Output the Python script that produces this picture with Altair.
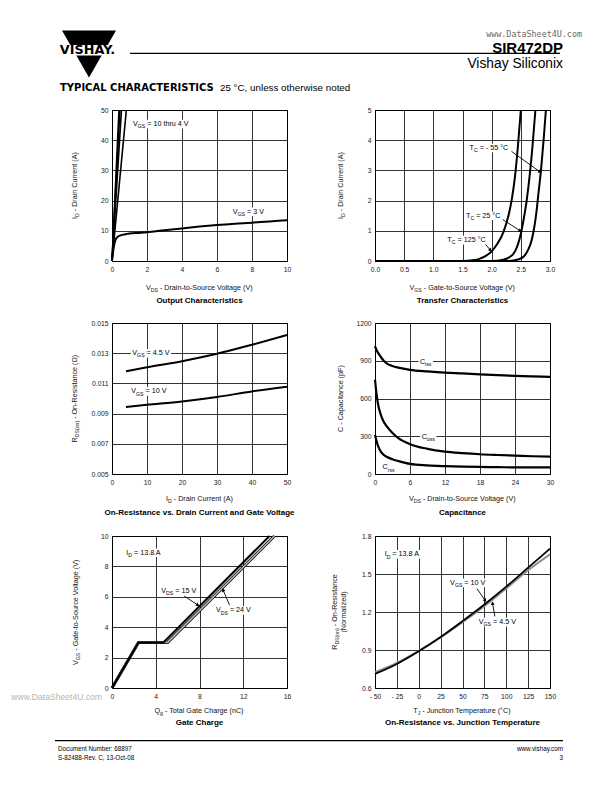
import math
import altair as alt
import pandas as pd

FONT = "Liberation Sans"

# ---------------- data ----------------
# Output characteristics
out_hi_vds = [[0.0, 0.40], [0.0, 0.45], [0.0, 0.54], [0.0, 0.82]]   # VGS = 10 thru 4 V
out_hi_id = [0.0, 50.0]
out_vgs3_vds = [0, 0.05, 0.1, 0.15, 0.2, 0.3, 0.45, 0.7, 1.0, 1.5, 2, 3, 4, 5, 6, 7, 8, 9, 10]
out_vgs3_id = [0, 2.5, 4.5, 6.0, 7.0, 7.9, 8.4, 8.8, 9.1, 9.3, 9.5, 10.2, 10.8, 11.4, 11.9, 12.3, 12.7, 13.1, 13.5]

# Transfer characteristics
tr_125_vgs = [0, 1.5, 1.7, 1.8, 1.9, 2.0, 2.1, 2.2, 2.3, 2.35, 2.4, 2.45, 2.5]
tr_125_id = [0, 0, 0.03, 0.08, 0.17, 0.32, 0.58, 0.95, 1.6, 2.1, 2.8, 3.8, 5.0]
tr_25_vgs = [0, 2.0, 2.2, 2.3, 2.4, 2.45, 2.5, 2.55, 2.6, 2.65, 2.7, 2.75]
tr_25_id = [0, 0, 0.04, 0.12, 0.32, 0.55, 0.9, 1.4, 2.0, 2.8, 3.8, 5.0]
tr_m55_vgs = [0, 2.3, 2.45, 2.55, 2.62, 2.68, 2.72, 2.76, 2.8, 2.85, 2.89, 2.93]
tr_m55_id = [0, 0, 0.05, 0.15, 0.35, 0.65, 1.0, 1.5, 2.2, 3.1, 4.0, 5.0]

# On-resistance vs drain current
ron_id = [4, 10, 20, 30, 40, 50]
ron_vgs45 = [0.0118, 0.01207, 0.01247, 0.01296, 0.01356, 0.0142]
ron_vgs10 = [0.00944, 0.00958, 0.0098, 0.0101, 0.01047, 0.01078]

# Capacitance
cap_vds = [0, 0.25, 0.5, 1, 1.5, 2, 3, 4, 6, 9, 12, 15, 18, 21, 24, 27, 30]
cap_ciss = [1016, 985, 965, 930, 900, 880, 858, 845, 828, 815, 805, 799, 792, 786, 780, 776, 772]
cap_coss = [750, 640, 560, 470, 415, 380, 325, 285, 237, 200, 178, 166, 157, 151, 146, 141, 138]
cap_crss = [310, 265, 225, 178, 152, 137, 117, 103, 80, 68, 62, 58, 56, 54, 53, 53, 53]

# Gate charge
gc_qg_15 = [0, 2.42, 4.70, 14.40]
gc_vgs_15 = [0, 3, 3, 10]
gc_qg_24 = [0, 2.42, 5.08, 14.85]
gc_vgs_24 = [0, 3, 3, 10]

# On-resistance vs junction temperature
tj = [-50, -25, 0, 25, 50, 75, 100, 125, 150]
rn_vgs10 = [0.711, 0.79, 0.89, 1.003, 1.128, 1.259, 1.40, 1.55, 1.70]
rn_vgs45 = [0.724, 0.798, 0.893, 1.0, 1.12, 1.246, 1.386, 1.53, 1.655]

# tick values
p1_xt, p1_yt = [0, 2, 4, 6, 8, 10], [0, 10, 20, 30, 40, 50]
p2_xt, p2_yt = [0, 0.5, 1.0, 1.5, 2.0, 2.5, 3.0], [0, 1, 2, 3, 4, 5]
p3_xt, p3_yt = [0, 10, 20, 30, 40, 50], [0.005, 0.007, 0.009, 0.011, 0.013, 0.015]
p4_xt, p4_yt = [0, 6, 12, 18, 24, 30], [0, 300, 600, 900, 1200]
p5_xt, p5_yt = [0, 4, 8, 12, 16], [0, 2, 4, 6, 8, 10]
p6_xt, p6_yt = [-50, -25, 0, 25, 50, 75, 100, 125, 150], [0.6, 0.9, 1.2, 1.5, 1.8]

panel_titles = ["Output Characteristics", "Transfer Characteristics",
                "On-Resistance vs. Drain Current and Gate Voltage", "Capacitance",
                "Gate Charge", "On-Resistance vs. Junction Temperature"]

# ---------------- helpers ----------------
AW = {' ': 278, '!': 278, '(': 333, ')': 333, ',': 278, '-': 333, '.': 278, '/': 278, ':': 278,
      '=': 584, '°': 400, 'Ω': 768}
for c in "0123456789":
    AW[c] = 556
for c, w in zip("ABCDEFGHIJKLMNOPQRSTUVWXYZ",
                [667, 667, 722, 722, 667, 611, 778, 722, 278, 500, 667, 556, 833, 722, 778, 667, 778,
                 722, 667, 611, 722, 667, 944, 667, 667, 611]):
    AW[c] = w
for c, w in zip("abcdefghijklmnopqrstuvwxyz",
                [556, 556, 500, 556, 556, 278, 556, 556, 222, 222, 500, 222, 833, 556, 556, 556, 556,
                 333, 500, 278, 556, 500, 722, 500, 500, 500]):
    AW[c] = w


def tw(s, fs):
    return sum(AW.get(c, 556) for c in s) * fs / 1000.0


ONE = pd.DataFrame({"a": [0]})


def seg_list(segs, size):
    out, off = [], 0.0
    for t, sub in segs:
        fs = size * 0.72 if sub else size
        core = t.strip(" ")
        lead = len(t) - len(t.lstrip(" "))
        trail = len(t) - len(t.rstrip(" "))
        off += tw(" " * lead, fs)
        if core:
            out.append((core, fs, off, sub))
            off += tw(core, fs)
        off += tw(" " * trail, fs)
    return out, off


def ptext(segs, px, py, size, align="center", angle=0, color="#111"):
    items, total = seg_list(segs, size)
    start = {"left": 0.0, "center": -total / 2.0, "right": -total}[align]
    layers = []
    for t, fs, off, sub in items:
        sh = size * 0.3 if sub else 0.0
        if angle == 0:
            x, y = px + start + off, py + sh
        else:
            x, y = px + sh, py - (start + off)
        layers.append(alt.Chart(ONE).mark_text(
            text=t, font=FONT, fontSize=fs, color=color, align="left", baseline="middle", angle=angle
        ).encode(x=alt.value(x), y=alt.value(y)))
    return layers


def ptext1(t, px, py, size, align="left", weight="normal", font=FONT, color="black"):
    return alt.Chart(ONE).mark_text(
        text=t, font=font, fontSize=size, fontWeight=weight, color=color, align=align, baseline="middle"
    ).encode(x=alt.value(px), y=alt.value(py))


class Panel:
    def __init__(self, W, H, xdom, ydom, xvals, yvals, xfmt=None, yfmt=None, xexpr=None):
        self.W, self.H, self.xdom, self.ydom = W, H, xdom, ydom
        self.sx = alt.Scale(domain=xdom, nice=False, zero=False)
        self.sy = alt.Scale(domain=ydom, nice=False, zero=False)
        self.kx = W / (xdom[1] - xdom[0])
        self.ky = H / (ydom[1] - ydom[0])
        xk = dict(values=xvals, title=None, grid=True, ticks=False, domain=False, labelPadding=5.5,
                  labelFlush=False, labelOverlap=False)
        yk = dict(values=yvals, title=None, grid=True, ticks=False, domain=False, labelPadding=4,
                  labelFlush=False, labelOverlap=False)
        if xfmt:
            xk["format"] = xfmt
        if yfmt:
            yk["format"] = yfmt
        if xexpr:
            xk["labelExpr"] = xexpr
        self.xa = alt.Axis(**xk)
        self.ya = alt.Axis(**yk)

    def X(self, f="x"):
        return alt.X(f, type="quantitative", scale=self.sx, axis=self.xa)

    def Y(self, f="y"):
        return alt.Y(f, type="quantitative", scale=self.sy, axis=self.ya)


def axes(P):
    df = pd.DataFrame({"x": [P.xdom[0]], "y": [P.ydom[0]]})
    return alt.Chart(df).mark_point(opacity=0).encode(x=P.X(), y=P.Y())


def line(P, xs, ys, color="black", width=2.0, interp="monotone"):
    df = pd.DataFrame({"x": xs, "y": ys})
    return alt.Chart(df).mark_line(color=color, strokeWidth=width, interpolate=interp).encode(x=P.X(), y=P.Y())


def dlabel(P, segs, x, y, size=7.2, bg=True):
    items, total = seg_list(segs, size)
    df = pd.DataFrame({"x": [x], "y": [y]})
    layers = []
    if bg:
        layers.append(alt.Chart(df).mark_rect(
            color="white", xOffset=-1.5, x2Offset=total + 1.5, yOffset=-size * 0.6, y2Offset=size * 0.6
        ).encode(x=P.X(), x2=alt.X2("x"), y=P.Y(), y2=alt.Y2("y")))
    for t, fs, off, sub in items:
        layers.append(alt.Chart(df).mark_text(
            text=t, font=FONT, fontSize=fs, align="left", baseline="middle", dx=off,
            dy=(size * 0.3 if sub else 0), color="black"
        ).encode(x=P.X(), y=P.Y()))
    return layers


def arrow(P, x1, y1, x2, y2):
    df = pd.DataFrame({"x": [x1], "y": [y1], "x2": [x2], "y2": [y2]})
    rule = alt.Chart(df).mark_rule(color="black", strokeWidth=0.9).encode(
        x=P.X(), y=P.Y(), x2=alt.X2("x2"), y2=alt.Y2("y2"))
    dxp = (x2 - x1) * P.kx
    dyp = -(y2 - y1) * P.ky
    ang = math.degrees(math.atan2(dxp, -dyp)) % 360
    hd = pd.DataFrame({"x": [x2], "y": [y2]})
    head = alt.Chart(hd).mark_point(shape="triangle-up", filled=True, size=16, angle=ang, color="black",
                                    opacity=1, strokeWidth=0).encode(x=P.X(), y=P.Y())
    return [rule, head]


def titles(P, xsegs, ysegs_list, xoff, toff, yxs, title):
    L = ptext(xsegs, P.W / 2, P.H + xoff, 7.2)
    for ysegs, yx in zip(ysegs_list, yxs):
        L += ptext(ysegs, yx, P.H / 2, 7.2, angle=270)
    L.append(ptext1(title, P.W / 2, P.H + toff, 8, align="center", weight="bold"))
    return L


W = 175
VDS = [("V", 0), ("DS", 1), (" - Drain-to-Source Voltage (V)", 0)]
VGS = [("V", 0), ("GS", 1), (" - Gate-to-Source Voltage (V)", 0)]
ID = [("I", 0), ("D", 1), (" - Drain Current (A)", 0)]

# ---------------- panel 1 ----------------
P1 = Panel(W, 151, [0, 10], [0, 50], p1_xt, p1_yt)
l1 = [axes(P1)]
for xs in out_hi_vds:
    l1.append(line(P1, xs, out_hi_id, width=1.6, interp="linear"))
l1.append(line(P1, out_vgs3_vds, out_vgs3_id, width=2.0))
l1 += dlabel(P1, [("V", 0), ("GS", 1), (" = 10 thru 4 V", 0)], 1.2, 45.3)
l1 += dlabel(P1, [("V", 0), ("GS", 1), (" = 3 V", 0)], 6.9, 16.3)
l1 += titles(P1, VDS, [ID], 27, 40, [-37], panel_titles[0])
# page header (positioned relative to this panel)
l1.append(alt.Chart(ONE).mark_point(shape="triangle-down", size=2916, filled=True, color="black",
                                    opacity=1, strokeWidth=0).encode(x=alt.value(-23), y=alt.value(-56)))
l1.append(alt.Chart(ONE).mark_rect(color="white").encode(
    x=alt.value(-57), x2=alt.value(10), y=alt.value(-65), y2=alt.value(-54.5)))
l1.append(ptext1("VISHAY.", -24.5, -59.8, 12.8, align="center", weight="bold", font="DejaVu Sans"))
l1.append(alt.Chart(ONE).mark_rule(color="black", strokeWidth=1.3).encode(
    x=alt.value(18), x2=alt.value(448), y=alt.value(-56.7)))
l1.append(ptext1("SIR472DP", 451, -62.5, 15, align="right", weight="bold"))
l1.append(ptext1("www.DataSheet4U.com", 470, -76, 8.4, align="right", font="DejaVu Sans Mono",
                 color="#6a6a6a"))
l1.append(ptext1("Vishay Siliconix", 451, -46.2, 13.8, align="right"))
l1.append(ptext1("TYPICAL CHARACTERISTICS", -52, -22.3, 10, weight="bold", font="DejaVu Sans"))
l1.append(ptext1("25 °C, unless otherwise noted", 108, -22, 9.8))
c1 = alt.layer(*l1).properties(width=P1.W, height=P1.H)

# ---------------- panel 2 ----------------
P2 = Panel(W, 151, [0, 3], [0, 5], p2_xt, p2_yt, xfmt=".1f")
l2 = [axes(P2)]
l2.append(line(P2, tr_125_vgs, tr_125_id))
l2.append(line(P2, tr_25_vgs, tr_25_id))
l2.append(line(P2, tr_m55_vgs, tr_m55_id))
l2 += arrow(P2, 2.34, 3.63, 2.83, 2.95)
l2 += arrow(P2, 2.19, 1.37, 2.49, 1.0)
l2 += arrow(P2, 1.88, 0.58, 1.98, 0.36)
l2 += dlabel(P2, [("T", 0), ("C", 1), (" = - 55 °C", 0)], 1.62, 3.74)
l2 += dlabel(P2, [("T", 0), ("C", 1), (" = 25 °C", 0)], 1.56, 1.5)
l2 += dlabel(P2, [("T", 0), ("C", 1), (" = 125 °C", 0)], 1.24, 0.69)
l2 += titles(P2, VGS, [ID], 27, 40, [-34], panel_titles[1])
c2 = alt.layer(*l2).properties(width=P2.W, height=P2.H)

# ---------------- panel 3 ----------------
P3 = Panel(W, 151, [0, 50], [0.005, 0.015], p3_xt, p3_yt, yfmt=".3f")
l3 = [axes(P3)]
l3.append(line(P3, ron_id, ron_vgs45))
l3.append(line(P3, ron_id, ron_vgs10))
l3 += dlabel(P3, [("V", 0), ("GS", 1), (" = 4.5 V", 0)], 5.8, 0.0130)
l3 += dlabel(P3, [("V", 0), ("GS", 1), (" = 10 V", 0)], 5.5, 0.01047)
l3 += titles(P3, ID, [[("R", 0), ("DS(on)", 1), (" - On-Resistance (Ω)", 0)]], 25, 39, [-37],
             panel_titles[2])
c3 = alt.layer(*l3).properties(width=P3.W, height=P3.H)

# ---------------- panel 4 ----------------
P4 = Panel(W, 151, [0, 30], [0, 1200], p4_xt, p4_yt, yfmt="d")
l4 = [axes(P4)]
l4.append(line(P4, cap_vds, cap_ciss, width=2.2))
l4.append(line(P4, cap_vds, cap_coss, width=2.2))
l4.append(line(P4, cap_vds, cap_crss, width=2.2))
l4 += dlabel(P4, [("C", 0), ("iss", 1)], 7.7, 893)
l4 += dlabel(P4, [("C", 0), ("oss", 1)], 8.0, 298)
l4 += dlabel(P4, [("C", 0), ("rss", 1)], 1.3, 52, bg=False)
l4 += titles(P4, VDS, [[("C - Capacitance (pF)", 0)]], 25, 39, [-34], panel_titles[3])
c4 = alt.layer(*l4).properties(width=P4.W, height=P4.H)

# ---------------- panel 5 ----------------
P5 = Panel(W, 152, [0, 16], [0, 10], p5_xt, p5_yt)
l5 = [axes(P5)]
l5.append(line(P5, gc_qg_24, gc_vgs_24, color="black", width=3.0, interp="linear"))
l5.append(line(P5, gc_qg_24, gc_vgs_24, color="#b5b5b5", width=1.6, interp="linear"))
l5.append(line(P5, gc_qg_15, gc_vgs_15, color="black", width=2.0, interp="linear"))
l5 += arrow(P5, 6.6, 6.05, 7.85, 5.45)
l5 += arrow(P5, 10.75, 5.45, 10.15, 6.45)
l5 += dlabel(P5, [("I", 0), ("D", 1), (" = 13.8 A", 0)], 1.3, 8.9)
l5 += dlabel(P5, [("V", 0), ("DS", 1), (" = 15 V", 0)], 4.5, 6.4)
l5 += dlabel(P5, [("V", 0), ("DS", 1), (" = 24 V", 0)], 9.5, 5.1)
l5 += titles(P5, [("Q", 0), ("g", 1), (" - Total Gate Charge (nC)", 0)], [VGS], 23, 35, [-36],
             panel_titles[4])
# page footer (positioned relative to this panel)
l5.append(ptext1("www.DataSheet4U.com", -10, 161, 8.6, align="right", color="#b5b5b5"))
l5.append(alt.Chart(ONE).mark_rule(color="black", strokeWidth=1.3).encode(
    x=alt.value(-57), x2=alt.value(451), y=alt.value(204.7)))
l5.append(ptext1("Document Number: 68897", -54, 213.3, 6.3))
l5.append(ptext1("S-82488-Rev. C, 13-Oct-08", -54, 222.3, 6.3))
l5.append(ptext1("www.vishay.com", 451, 213.3, 6.3, align="right"))
l5.append(ptext1("3", 451, 222.3, 6.3, align="right"))
c5 = alt.layer(*l5).properties(width=P5.W, height=P5.H)

# ---------------- panel 6 ----------------
P6 = Panel(W, 152, [-50, 150], [0.6, 1.8], p6_xt, p6_yt, yfmt=".1f",
           xexpr="datum.value < 0 ? '- ' + abs(datum.value) : datum.label")
l6 = [axes(P6)]
l6.append(line(P6, tj, rn_vgs45, color="#8f8f8f", width=2.0))
l6.append(line(P6, tj, rn_vgs10, color="black", width=1.8))
l6 += arrow(P6, 66.5, 1.385, 76.0, 1.29)
l6 += arrow(P6, 87.0, 1.165, 84.3, 1.27)
l6 += dlabel(P6, [("I", 0), ("D", 1), (" = 13.8 A", 0)], -39, 1.655)
l6 += dlabel(P6, [("V", 0), ("GS", 1), (" = 10 V", 0)], 35.8, 1.43)
l6 += dlabel(P6, [("V", 0), ("GS", 1), (" = 4.5 V", 0)], 68.5, 1.12)
l6 += titles(P6, [("T", 0), ("J", 1), (" - Junction Temperature (°C)", 0)],
             [[("R", 0), ("DS(on)", 1), (" - On-Resistance", 0)], [("(Normalized)", 0)]],
             23, 35, [-40, -31], panel_titles[5])
c6 = alt.layer(*l6).properties(width=P6.W, height=P6.H)

chart = alt.concat(c1, c2, c3, c4, c5, c6, columns=2,
                   spacing={"row": 62, "column": 88}, bounds="flush").properties(
    autosize=alt.AutoSizeParams(type="none"),
    padding={"left": 104, "top": 102, "right": 480, "bottom": 660},
).configure_view(stroke="black", strokeWidth=1).configure_axis(
    labelFont=FONT, labelFontSize=6.8, labelColor="#1a1a1a", gridColor="black", gridWidth=0.8,
    gridOpacity=1)

chart.save("out.html", embed_options={"renderer": "svg", "actions": False})
